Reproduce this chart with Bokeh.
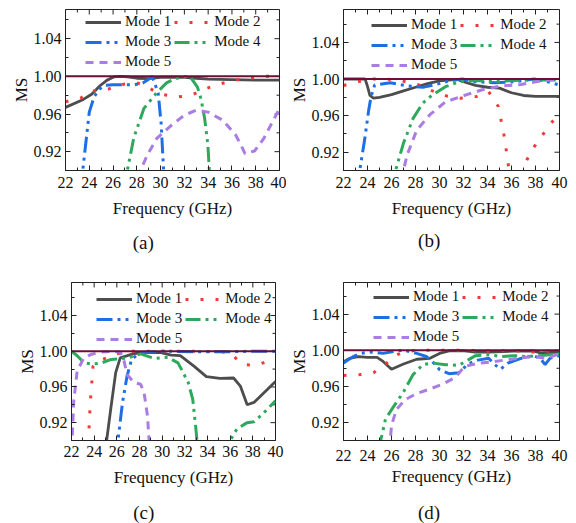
import math
from bokeh.plotting import figure
from bokeh.layouts import column, row
from bokeh.models import (Span, Legend, LegendItem, FixedTicker,
                          Range1d, PrintfTickFormatter)
from bokeh.core.properties import value
from bokeh.embed import file_html
from bokeh.resources import INLINE

nan = float("nan")
FONT = "Liberation Serif, Times New Roman, DejaVu Serif, serif"

# ---------------- data ----------------
x_ticks = [22, 24, 26, 28, 30, 32, 34, 36, 38, 40]
x_minor = [23, 25, 27, 29, 31, 33, 35, 37, 39]
y_ticks = [0.92, 0.96, 1.00, 1.04]
y_minor = [0.90, 0.94, 0.98, 1.02, 1.06]
reference_ms = 1.0
mode_labels = ["Mode 1", "Mode 2", "Mode 3", "Mode 4", "Mode 5"]
panel_tags = ["(a)", "(b)", "(c)", "(d)"]

# panel (a)
a1_x = [22, 23.5, 24.2, 24.9, 25.5, 26.1, 26.6, 27.2, 28, 29, 30, 31, 32, 33, 34, 36, 38, 40]
a1_y = [0.967, 0.9755, 0.981, 0.990, 0.996, 0.9995, 1.000, 0.9995, 0.998, 0.9975, 0.999, 0.9992, 0.999, 0.998, 0.997, 0.9965, 0.996, 0.996]
a2_x = [22, 23.3, 24.1, 25.6, 27, 28, 28.6, 29.1, 30, 31.4, 32.6, 33.8, 35, 36.2, 37.5, 38.8, 40]
a2_y = [0.973, 0.977, 0.984, 0.9865, 0.992, 0.993, 0.991, 0.987, 0.981, 0.978, 0.980, 0.987, 0.992, 0.996, 0.998, 1.000, 1.000]
a3_x = [23.2, 23.45, 24.0, 24.4, 24.8, 25.3, 26, 27, 27.8, 28.5, 29.0, 29.3, 29.8, 30.05, 30.25, 30.35]
a3_y = [0.88, 0.90, 0.962, 0.978, 0.986, 0.9906, 0.991, 0.991, 0.991, 0.993, 0.997, 1.000, 0.982, 0.949, 0.90, 0.88]
a4_x = [27.0, 27.2, 27.75, 28.6, 29.7, 30.5, 31.1, 31.9, 32.5, 33.1, 33.4, 33.7, 33.97, 34.1, 34.2]
a4_y = [0.88, 0.90, 0.935, 0.966, 0.983, 0.993, 0.997, 0.9995, 0.9995, 0.9885, 0.976, 0.9555, 0.928, 0.90, 0.88]
a5_x = [28.0, 28.3, 28.9, 29.7, 30.9, 32, 33, 34, 35.2, 36.3, 36.8, 37.1, 37.9, 38.7, 40]
a5_y = [0.893, 0.90, 0.917, 0.9345, 0.948, 0.9588, 0.964, 0.962, 0.9536, 0.938, 0.926, 0.918, 0.9207, 0.9345, 0.966]

# panel (b)
b1_x = [22, 23.8, 24.0, 24.2, 24.5, 25, 26, 27, 28, 29, 30, 31, 31.5, 32, 33, 34, 35, 36, 37, 38, 40]
b1_y = [1.000, 1.000, 0.992, 0.982, 0.979, 0.980, 0.983, 0.987, 0.991, 0.995, 0.998, 0.999, 0.9995, 0.997, 0.993, 0.991, 0.990, 0.985, 0.982, 0.981, 0.981]
b2_x = [22, 23.5, 24.5, 25.3, 26.5, 27.5, 28.5, 29.2, 30.6, 31.7, 33.1, 34.1, 34.9, 35.4, 35.6, 35.8, 36.3, 36.9, 37.3, 37.9, 38.6, 39.3, 40]
b2_y = [0.993, 0.998, 1.000, 1.000, 0.999, 0.996, 0.993, 0.988, 0.9815, 0.979, 0.981, 0.986, 0.970, 0.937, 0.919, 0.900, 0.87, 0.90, 0.912, 0.926, 0.939, 0.952, 0.961]
b3_x = [23.1, 23.35, 23.76, 24.1, 24.3, 24.6, 25.9, 27.3, 28.6, 29.7, 30.8, 31.9, 33.0, 34.6, 36.2, 37.9, 39, 40]
b3_y = [0.88, 0.90, 0.9335, 0.966, 0.981, 0.9935, 0.996, 0.9924, 0.991, 0.994, 0.998, 1.000, 0.997, 0.996, 0.997, 1.000, 0.997, 0.9935]
b4_x = [26.1, 26.34, 27.0, 27.8, 28.6, 29.4, 30.5, 31.6, 32.9, 34.6, 36.2, 37.8, 40]
b4_y = [0.88, 0.90, 0.930, 0.957, 0.9735, 0.9826, 0.9916, 0.997, 0.9985, 0.997, 0.9985, 0.999, 0.999]
b5_x = [26.7, 27.0, 27.3, 28.1, 29.2, 30.5, 32.2, 33.5, 35.1, 36.8, 38.4, 40]
b5_y = [0.89, 0.90, 0.917, 0.944, 0.961, 0.975, 0.9826, 0.988, 0.9924, 0.994, 0.998, 1.000]

# panel (c)
c1_x = [24.9, 25.1, 25.46, 25.9, 26.3, 27.5, 28.7, 29.9, 30.8, 31.6, 32.8, 33.9, 35.1, 36.3, 36.9, 37.5, 38.1, 39.3, 40]
c1_y = [0.88, 0.90, 0.935, 0.976, 0.9926, 0.9974, 0.9987, 0.9985, 0.9956, 0.995, 0.9833, 0.9716, 0.9697, 0.970, 0.961, 0.940, 0.9427, 0.9574, 0.966]
c2_x = [23.4, 23.5, 23.6, 23.7, 23.9, 24.3, 25.1, 25.9, 27.3, 30, 33, 36, 36.6, 37.2, 38.3, 39.4, 40]
c2_y = [0.88, 0.90, 0.928, 0.95, 0.983, 0.989, 0.9926, 0.997, 1.000, 1.000, 1.000, 0.999, 0.9908, 0.985, 0.9843, 0.989, 0.9908]
c3_x = [25.9, 26.1, 26.5, 26.9, 27.3, 27.7, 28.3, 30, 33, 36, 38, 40]
c3_y = [0.88, 0.90, 0.9426, 0.972, 0.9908, 0.995, 0.9985, 1.000, 0.9995, 0.9995, 1.000, 1.000]
c4_x = [22, 22.5, 23.1, 23.8, 24.6, 25.5, 27, 28.1, 29.3, 30.5, 31.4, 32.3, 32.7, 33.0, 33.2, nan, 35.8, 36.0, 36.6, 37.5, 38.1, 38.9, 40]
c4_y = [1.000, 0.995, 0.987, 0.9855, 0.9867, 0.9908, 0.9926, 0.997, 0.992, 0.9932, 0.987, 0.965, 0.946, 0.91, 0.88, nan, 0.88, 0.90, 0.913, 0.920, 0.921, 0.930, 0.9445]
c5_x = [22.02, 22.2, 22.5, 23.1, 23.7, 24.6, 25.5, 26.3, 26.6, 26.9, 27.5, 28.1, 28.4, 28.7, 28.85, 28.95]
c5_y = [0.89, 0.9445, 0.978, 0.9926, 0.9963, 0.999, 1.000, 0.999, 0.991, 0.974, 0.965, 0.963, 0.954, 0.928, 0.90, 0.88]

# panel (d)
d1_x = [22, 22.5, 23.2, 24.0, 24.8, 25.3, 26.0, 27.0, 28.1, 29.2, 30.0, 30.8, 31.9, 33.0, 34.1, 36.2, 37.8, 38.4, 40]
d1_y = [0.987, 0.991, 0.993, 0.992, 0.992, 0.9876, 0.979, 0.9847, 0.990, 0.991, 0.9964, 0.9992, 0.9995, 0.998, 0.998, 0.999, 0.9993, 0.997, 0.998]
d2_x = [22, 23.4, 24.5, 25.5, 26.4, 27, 28.1, 30, 32, 34.1, 35, 36.8, 37.8, 39, 40]
d2_y = [0.972, 0.973, 0.975, 0.9847, 0.9946, 0.998, 1.000, 1.000, 1.000, 0.999, 0.9995, 0.999, 0.998, 0.999, 1.000]
d3_x = [22, 22.8, 23.4, 24.2, 25.3, 26.4, 27, 28.1, 28.9, 29.4, 30, 30.8, 31.6, 32.4, 33.2, 34.1, 34.6, 35.1, 35.7, 36.8, 37.8, 38.4, 38.8, 39.2, 40]
d3_y = [0.9857, 0.9929, 0.9965, 0.998, 0.9965, 0.999, 1.000, 0.9965, 0.993, 0.9876, 0.9786, 0.974, 0.975, 0.985, 0.989, 0.9911, 0.984, 0.979, 0.9857, 0.991, 0.994, 0.991, 0.984, 0.991, 0.994]
d4_x = [24.9, 25.1, 25.5, 26.2, 27, 27.8, 28.6, 29.4, 30.5, 31.6, 32.4, 33.0, 34.1, 35.1, 36.2, 37.3, 38.4, 40]
d4_y = [0.89, 0.90, 0.9237, 0.938, 0.9538, 0.973, 0.984, 0.9858, 0.984, 0.9833, 0.9893, 0.994, 0.995, 0.993, 0.994, 0.993, 0.994, 0.996]
d5_x = [25.8, 25.9, 26.0, 26.4, 27.1, 28.1, 29.2, 30.3, 31.3, 32.1, 33.2, 34.3, 35.4, 36.8, 37.8, 38.9, 40]
d5_y = [0.89, 0.90, 0.9166, 0.934, 0.945, 0.952, 0.957, 0.9627, 0.9698, 0.982, 0.9855, 0.987, 0.989, 0.9915, 0.993, 0.991, 0.996]

# ---------------- styles ----------------
colors = ["#4d4d4d", "#f03a3a", "#1f6fe4", "#2ea85c", "#a97de4"]
dashes = ["solid", "3 12", "16 5 3 5 3 5", "15 5 3 5 3 5", "8 6"]
widths = [2.8, 3, 3, 3, 3]
ref_color = "#6b0f3a"
ink = "#222222"


def style_axis(ax):
    ax.major_tick_in = 5
    ax.major_tick_out = 0
    ax.minor_tick_in = 3
    ax.minor_tick_out = 0
    ax.axis_line_color = ink
    ax.major_tick_line_color = ink
    ax.minor_tick_line_color = ink
    ax.major_label_text_font = FONT
    ax.major_label_text_color = "#111111"
    ax.major_label_text_font_size = "16px"
    ax.axis_label_text_font = FONT
    ax.axis_label_text_font_style = "normal"
    ax.axis_label_text_color = "#111111"
    ax.axis_label_text_font_size = "17px"


def make_panel(width, height, left, right, top, bottom, ytop, xs, ys,
               leg_loc, x_std, x_lab_std):
    p = figure(width=width, height=height, output_backend="svg", toolbar_location=None,
               x_range=Range1d(22, 40), y_range=Range1d(0.90, ytop),
               min_border_left=left, min_border_right=right,
               min_border_top=top, min_border_bottom=bottom)
    p.grid.visible = False
    p.outline_line_color = ink
    p.outline_line_width = 1

    xa = p.xaxis[0]
    xa.ticker = FixedTicker(ticks=x_ticks, minor_ticks=x_minor)
    xa.axis_label = "Frequency (GHz)"
    style_axis(xa)
    xa.major_label_standoff = x_std
    xa.axis_label_standoff = x_lab_std

    ya = p.yaxis[0]
    ya.ticker = FixedTicker(ticks=y_ticks, minor_ticks=y_minor)
    ya.formatter = PrintfTickFormatter(format="%.2f")
    ya.axis_label = "MS"
    style_axis(ya)
    ya.major_label_standoff = 4
    ya.axis_label_standoff = 0

    # mirrored inward ticks on the top and right frame edges
    p.scatter(x_ticks, [ytop] * len(x_ticks), marker="dash", angle=math.pi / 2,
              size=10, line_color=ink, line_width=1)
    p.scatter(x_minor, [ytop] * len(x_minor), marker="dash", angle=math.pi / 2,
              size=6, line_color=ink, line_width=1)
    p.scatter([40] * len(y_ticks), y_ticks, marker="dash", size=10,
              line_color=ink, line_width=1)
    p.scatter([40] * len(y_minor), y_minor, marker="dash", size=6,
              line_color=ink, line_width=1)

    p.add_layout(Span(location=reference_ms, dimension="width", line_color=ref_color,
                      line_width=2))

    items = []
    for i in range(5):
        r = p.line(xs[i], ys[i], line_color=colors[i], line_width=widths[i],
                   line_dash=dashes[i])
        items.append(LegendItem(label=mode_labels[i], renderers=[r]))

    leg = Legend(items=items, location=leg_loc, orientation="horizontal", ncols=2,
                 label_text_font=FONT, label_text_font_size="15px",
                 label_text_color="#111111",
                 glyph_width=36, glyph_height=16, label_height=16,
                 label_standoff=4, spacing=3, padding=0, margin=0,
                 background_fill_alpha=0, border_line_color=None)
    p.add_layout(leg)
    return p


def make_tag(width, height, tag, cx, cy):
    t = figure(width=width, height=height, output_backend="svg", toolbar_location=None,
               x_range=Range1d(0, width), y_range=Range1d(height, 0),
               x_axis_type=None, y_axis_type=None,
               min_border_left=0, min_border_right=0, min_border_top=0,
               min_border_bottom=0)
    t.grid.visible = False
    t.outline_line_color = None
    t.text(x=[cx], y=[cy], text=[tag], text_align="center", text_baseline="middle",
           text_font=value(FONT), text_font_size="19px", text_color="#111111")
    return t


pa = make_panel(286, 226, 65, 7, 9, 53, 1.071,
                [a1_x, a2_x, a3_x, a4_x, a5_x], [a1_y, a2_y, a3_y, a4_y, a5_y],
                (20, 100), 6, 8)
pb = make_panel(290, 226, 52, 17, 9, 56, 1.076,
                [b1_x, b2_x, b3_x, b4_x, b5_x], [b1_y, b2_y, b3_y, b4_y, b5_y],
                (28, 97), 6, 8)
pc = make_panel(286, 232, 71, 11, 20, 54, 1.077,
                [c1_x, c2_x, c3_x, c4_x, c5_x], [c1_y, c2_y, c3_y, c4_y, c5_y],
                (25, 93), 5, 8)
pd = make_panel(290, 232, 52, 17, 19, 49, 1.075,
                [d1_x, d2_x, d3_x, d4_x, d5_x], [d1_y, d2_y, d3_y, d4_y, d5_y],
                (30, 95), 9, 3)

ta = make_tag(286, 36, panel_tags[0], 142.8, 16)
tb = make_tag(290, 36, panel_tags[1], 142.7, 14)
tc = make_tag(286, 29, panel_tags[2], 143.3, 17.5)
td = make_tag(290, 29, panel_tags[3], 142.5, 17.5)

layout = column(row(pa, pb), row(ta, tb), row(pc, pd), row(tc, td))
open("out.html", "w").write(file_html(layout, INLINE))
